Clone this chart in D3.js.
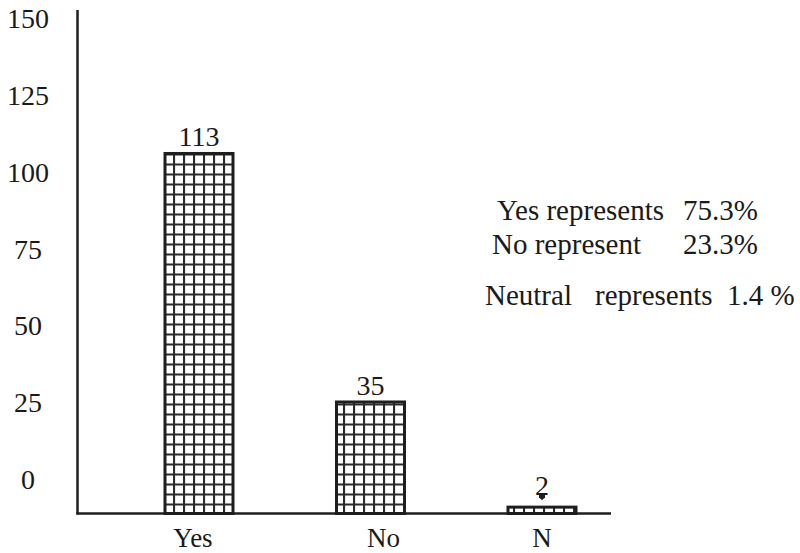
<!DOCTYPE html>
<html>
<head>
<meta charset="utf-8">
<script src="https://cdn.jsdelivr.net/npm/d3@7/dist/d3.min.js"></script>
<style>
  html, body { margin: 0; padding: 0; background: #fff; }
  svg { display: block; }
</style>
</head>
<body>
<svg id="chart" width="800" height="553"></svg>
<script>
// Survey responses
const categories = ["Yes", "No", "N"];
const counts = [113, 35, 2];

// Labels printed along the vertical axis
const yTickLabels = [0, 25, 50, 75, 100, 125, 150];

// Summary notes on the right
const noteLines = [
  [{ text: "Yes represents", x: 497 }, { text: "75.3%", x: 683 }],
  [{ text: "No represent", x: 492 }, { text: "23.3%", x: 683 }],
  [{ text: "Neutral", x: 485 }, { text: "represents", x: 595 }, { text: "1.4 %", x: 727 }]
];
const noteBaselines = [220, 254, 305];

const svg = d3.select("#chart");
const ink = "#1e1e1e";
const font = "'Times New Roman', Tinos, 'Liberation Serif', 'DejaVu Serif', 'Noto Serif', serif";

const axisX = 77.5, baseY = 513.5, axisTop = 10, axisRight = 611;

// Hatched grid fill for the bars
const defs = svg.append("defs");
const pat = defs.append("pattern")
  .attr("id", "grid")
  .attr("patternUnits", "userSpaceOnUse")
  .attr("width", 10).attr("height", 10)
  .attr("x", 3).attr("y", 3.5);
pat.append("rect").attr("width", 10).attr("height", 10).attr("fill", "#fff");
pat.append("path")
  .attr("d", "M0,1 H10 M1,0 V10")
  .attr("stroke", "#2a2a2a").attr("stroke-width", 2.2);

const x = d3.scalePoint()
  .domain(categories)
  .range([199, 542]);

const y = d3.scaleLinear()
  .domain([0, 150])
  .range([baseY, baseY - 150 * 3.186]);

// Vertical label positions (text baselines)
const yLabel = d3.scaleLinear()
  .domain([0, 150])
  .range([489, 28]);

const barW = 68;
const data = categories.map((c, i) => ({ cat: c, value: counts[i] }));

// Bars
svg.append("g").selectAll("rect")
  .data(data)
  .join("rect")
  .attr("x", d => x(d.cat) - barW / 2)
  .attr("y", d => y(d.value))
  .attr("width", barW)
  .attr("height", d => baseY - y(d.value))
  .attr("fill", "url(#grid)")
  .attr("stroke", ink)
  .attr("stroke-width", 3);

// Axes lines
svg.append("line")
  .attr("x1", axisX).attr("x2", axisX)
  .attr("y1", axisTop).attr("y2", baseY + 1)
  .attr("stroke", ink).attr("stroke-width", 2.5);
svg.append("line")
  .attr("x1", axisX - 1).attr("x2", axisRight)
  .attr("y1", baseY).attr("y2", baseY)
  .attr("stroke", ink).attr("stroke-width", 2.5);

const label = sel => sel
  .attr("font-family", font)
  .attr("fill", "#1a1a1a");

// Vertical axis labels
svg.append("g").selectAll("text")
  .data(yTickLabels)
  .join("text")
  .call(label)
  .attr("x", 28)
  .attr("y", d => yLabel(d))
  .attr("text-anchor", "middle")
  .attr("font-size", 28)
  .text(d => d);

// Category labels
svg.append("g").selectAll("text")
  .data(data)
  .join("text")
  .call(label)
  .attr("x", d => x(d.cat) - (d.cat === "Yes" ? 6 : d.cat === "No" ? -13 : 0))
  .attr("y", 547)
  .attr("text-anchor", "middle")
  .attr("font-size", 27)
  .text(d => d.cat);

// Value labels above bars
svg.append("g").selectAll("text")
  .data(data)
  .join("text")
  .call(label)
  .attr("x", d => x(d.cat))
  .attr("y", d => y(d.value) - (d.value < 5 ? 12 : 7))
  .attr("text-anchor", "middle")
  .attr("font-size", 28)
  .text(d => d.value);

// Small pointer under the smallest value label
const smallest = data[data.length - 1];
svg.append("path")
  .attr("d", `M${x(smallest.cat) - 3},${y(smallest.value) - 13} h6 v3 l-3,3 l-3,-3 z`)
  .attr("fill", ink);

// Summary notes
const notes = svg.append("g");
noteLines.forEach((line, i) => {
  notes.selectAll(null)
    .data(line)
    .join("text")
    .call(label)
    .attr("x", d => d.x)
    .attr("y", noteBaselines[i])
    .attr("font-size", 29)
    .text(d => d.text);
});
</script>
</body>
</html>
